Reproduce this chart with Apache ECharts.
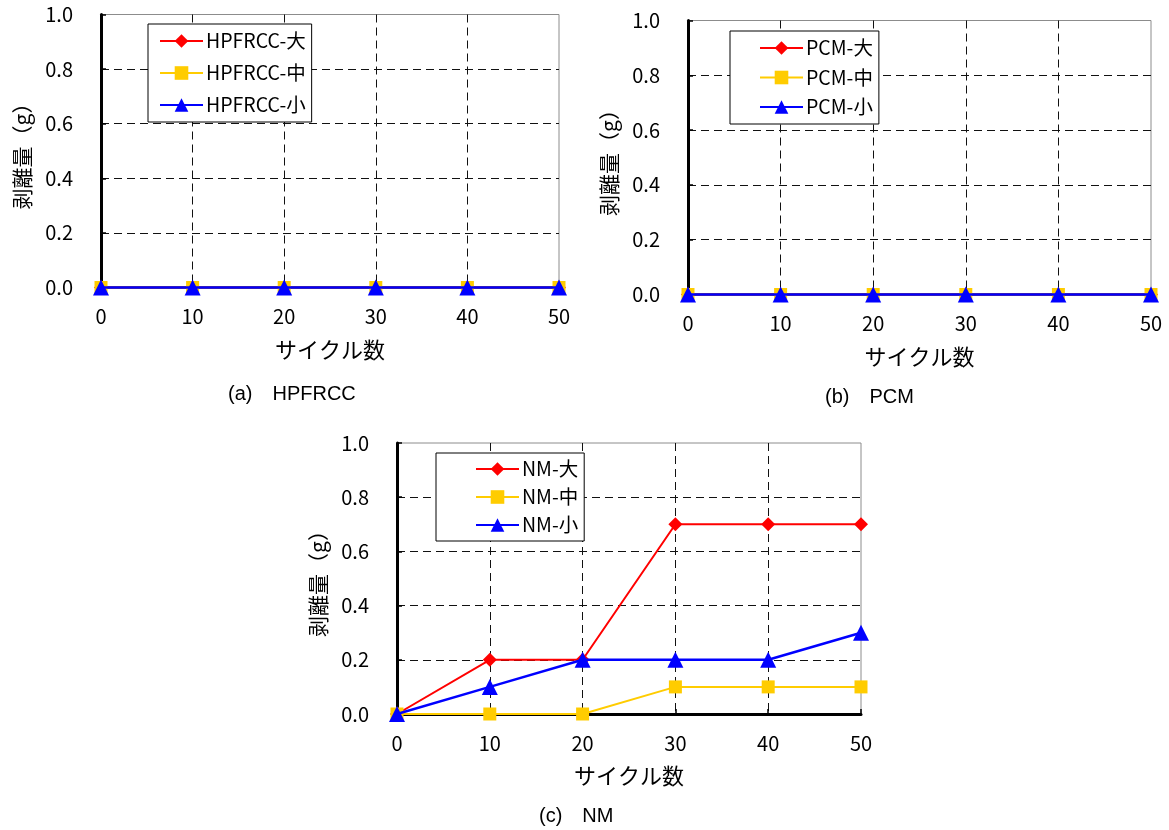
<!DOCTYPE html>
<html>
<head>
<meta charset="utf-8">
<script src="https://cdn.jsdelivr.net/npm/echarts@6/dist/echarts.min.js"></script>
<style>
  html, body { margin: 0; padding: 0; background: #fff; }
  #chart { width: 1169px; height: 830px; }
</style>
</head>
<body>
<div id="chart"></div>
<script>
// ---- Data ----
const cycles = [0, 10, 20, 30, 40, 50];
const sizeLabels = ['大', '中', '小'];
const panelNames = ['HPFRCC', 'PCM', 'NM'];
const panelCaptions = ['(a)　HPFRCC', '(b)　PCM', '(c)　NM'];

const hpfrccLarge  = [0, 0, 0, 0, 0, 0];
const hpfrccMedium = [0, 0, 0, 0, 0, 0];
const hpfrccSmall  = [0, 0, 0, 0, 0, 0];

const pcmLarge  = [0, 0, 0, 0, 0, 0];
const pcmMedium = [0, 0, 0, 0, 0, 0];
const pcmSmall  = [0, 0, 0, 0, 0, 0];

const nmLarge  = [0, 0.2, 0.2, 0.7, 0.7, 0.7];
const nmMedium = [0, 0, 0, 0.1, 0.1, 0.1];
const nmSmall  = [0, 0.1, 0.2, 0.2, 0.2, 0.3];

const panelData = [
  [hpfrccLarge, hpfrccMedium, hpfrccSmall],
  [pcmLarge, pcmMedium, pcmSmall],
  [nmLarge, nmMedium, nmSmall]
];

const xAxisName = 'サイクル数';
const yAxisName = '剥離量（g）';

// ---- Styles / layout ----
const colors = ['#FF0000', '#FFCC00', '#0000FF'];
const symbols = ['diamond', 'rect', 'triangle'];
const symbolSizes = [14, 13, 16];
const lineWidths = [2, 2, 2.5];

const grids = [
  { left: 101, top: 14.5, width: 458, height: 273 },
  { left: 688, top: 20.5, width: 463, height: 274 },
  { left: 397, top: 443, width: 464, height: 271 }
];
const legendPos = [
  { left: 148, top: 24, itemGap: 12, padding: [7, 6, 7, 11] },
  { left: 730, top: 31, itemGap: 9.5, padding: [7, 6, 7, 29] },
  { left: 436, top: 453, itemGap: 8, padding: [6, 6, 6, 39] }
];
const captionPos = [
  { left: 228, top: 384 },
  { left: 825, top: 387 },
  { left: 539, top: 806 }
];

const FONT = '"Noto Sans CJK JP", "Noto Sans", sans-serif';

const option = {
  backgroundColor: '#ffffff',
  animation: false,
  textStyle: { fontFamily: FONT, color: '#000' },
  title: panelCaptions.map((t, i) => ({
    text: t,
    left: captionPos[i].left,
    top: captionPos[i].top,
    padding: 0,
    textStyle: {
      fontFamily: '"Liberation Sans", Arial, "Noto Sans CJK JP", sans-serif',
      fontSize: 20,
      fontWeight: 'normal',
      color: '#000'
    }
  })),
  grid: grids.map(g => Object.assign({
    show: true,
    borderColor: '#8c8c8c',
    borderWidth: 1,
    backgroundColor: 'transparent',
    containLabel: false
  }, g)),
  xAxis: grids.map((g, i) => ({
    type: 'value',
    gridIndex: i,
    min: 0,
    max: 50,
    interval: 10,
    name: xAxisName,
    nameLocation: 'middle',
    nameGap: 51,
    nameTextStyle: { fontSize: 22, color: '#000', fontFamily: FONT },
    axisLine: { show: true, onZero: false, lineStyle: { color: '#000', width: 3 } },
    axisTick: { show: true, inside: true, length: 5, lineStyle: { color: '#000', width: 1.5 } },
    axisLabel: { fontSize: 20, color: '#000', margin: 19, fontFamily: FONT },
    splitLine: {
      show: true,
      showMinLine: false,
      showMaxLine: false,
      lineStyle: { color: '#111', width: 1, type: [8, 5] }
    }
  })),
  yAxis: grids.map((g, i) => ({
    type: 'value',
    gridIndex: i,
    min: 0,
    max: 1,
    interval: 0.2,
    name: yAxisName,
    nameLocation: 'middle',
    nameRotate: 90,
    nameGap: 68,
    nameTextStyle: { fontSize: 21, color: '#000', fontFamily: FONT },
    axisLine: { show: true, onZero: false, lineStyle: { color: '#000', width: 3 } },
    axisTick: { show: true, inside: true, length: 5, lineStyle: { color: '#000', width: 1.5 } },
    axisLabel: {
      fontSize: 20, color: '#000', margin: 28, fontFamily: FONT,
      formatter: v => v.toFixed(1)
    },
    splitLine: {
      show: true,
      showMinLine: false,
      showMaxLine: false,
      lineStyle: { color: '#111', width: 1, type: [8, 5] }
    }
  })),
  legend: panelNames.map((p, i) => ({
    data: sizeLabels.map(s => p + '-' + s),
    orient: 'vertical',
    left: legendPos[i].left,
    top: legendPos[i].top,
    padding: legendPos[i].padding,
    itemGap: legendPos[i].itemGap,
    itemWidth: 43,
    itemHeight: 17,
    backgroundColor: '#ffffff',
    borderColor: '#000',
    borderWidth: 1,
    borderRadius: 0,
    selectedMode: false,
    textStyle: { fontSize: 19.5, color: '#000', fontFamily: FONT, lineHeight: 20, padding: [0, 0, 0, -2] }
  })),
  series: []
};

panelNames.forEach((p, i) => {
  sizeLabels.forEach((s, k) => {
    option.series.push({
      name: p + '-' + s,
      type: 'line',
      xAxisIndex: i,
      yAxisIndex: i,
      data: cycles.map((c, j) => [c, panelData[i][k][j]]),
      symbol: symbols[k],
      symbolSize: symbolSizes[k],
      showAllSymbol: true,
      clip: false,
      itemStyle: { color: colors[k], borderWidth: 0 },
      lineStyle: { color: colors[k], width: lineWidths[k] },
      emphasis: { disabled: true },
      z: 3 + k
    });
  });
});

const chart = echarts.init(document.getElementById('chart'), null, { renderer: 'canvas' });
chart.setOption(option);
</script>
</body>
</html>
